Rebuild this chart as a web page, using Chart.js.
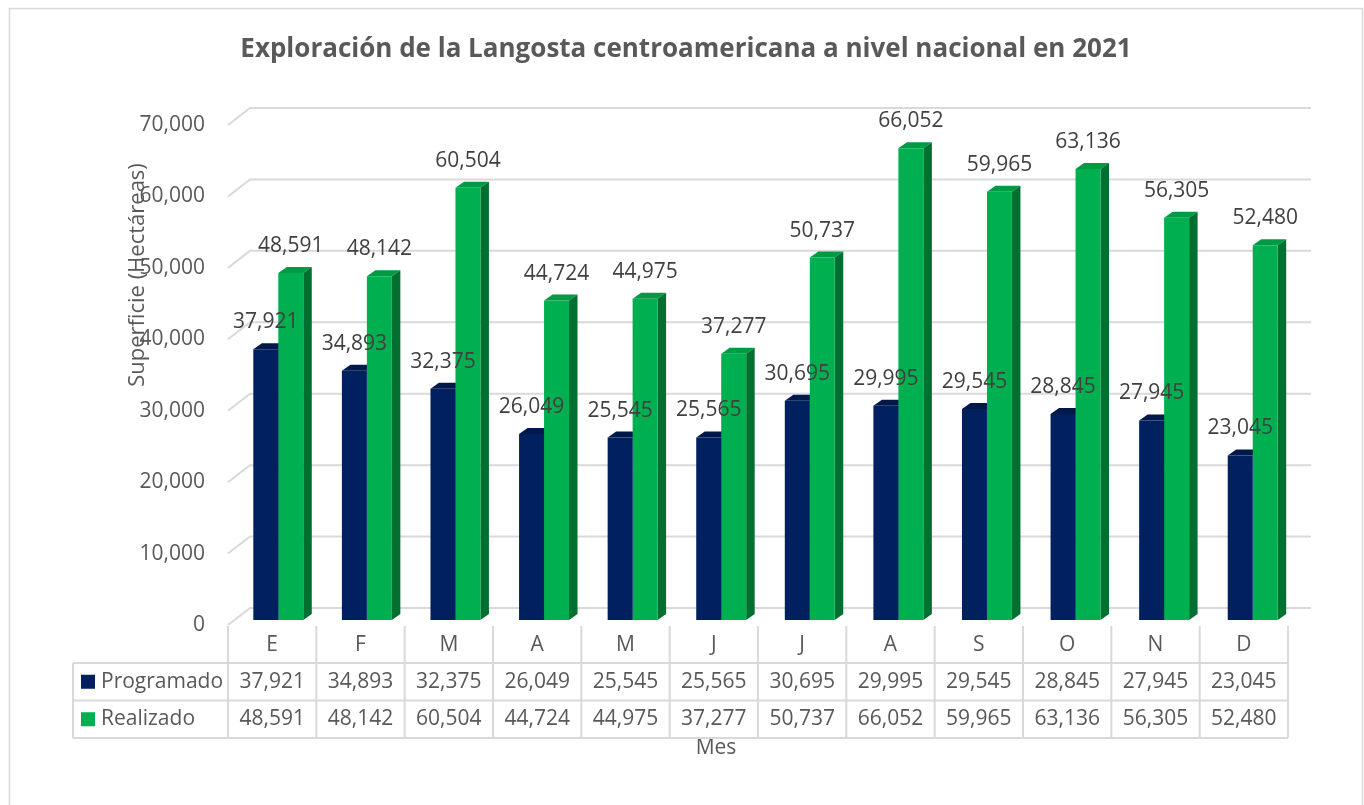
<!DOCTYPE html>
<html>
<head>
<meta charset="utf-8">
<script src="https://cdn.jsdelivr.net/npm/chart.js@4.4.0/dist/chart.umd.min.js"></script>
<style>
  html, body { margin: 0; padding: 0; background: #fff; }
  #contenedor { width: 1364px; height: 805px; }
</style>
</head>
<body>
<div id="contenedor"><canvas id="grafico"></canvas></div>
<script>
var meses = ["E", "F", "M", "A", "M", "J", "J", "A", "S", "O", "N", "D"];
var programado = [37921, 34893, 32375, 26049, 25545, 25565, 30695, 29995, 29545, 28845, 27945, 23045];
var realizado = [48591, 48142, 60504, 44724, 44975, 37277, 50737, 66052, 59965, 63136, 56305, 52480];
var series = ["Programado", "Realizado"];
var titulo = "Exploración de la Langosta centroamericana a nivel nacional en 2021";
var tituloY = "Superficie (Hectáreas)";
var tituloX = "Mes";

var fuente = "'Open Sans', 'Noto Sans', sans-serif";
var colores = ["#002060", "#00B050"];
var coloresTapa = ["#00184a", "#009a44"];
var coloresLado = ["#001238", "#006f30"];
var gris = "#d9d9d9";

// profundidad 3D
var profX = 8.5, profY = 6;
var fondoX = 22, fondoY = 17;

function formato(n) {
  return n.toLocaleString("en-US");
}

var dibujo3D = {
  id: "dibujo3D",
  beforeDraw: function (chart) {
    var ctx = chart.ctx;
    var area = chart.chartArea;
    var y = chart.scales.y;
    ctx.save();
    ctx.fillStyle = "#fff";
    ctx.fillRect(0, 0, chart.width, chart.height);
    ctx.strokeStyle = gris;
    ctx.lineWidth = 1.5;
    ctx.strokeRect(9.5, 8.5, 1353, 820);

    /* titulo */
    ctx.fillStyle = "#595959";
    ctx.font = "bold 26px " + fuente;
    ctx.textAlign = "center";
    ctx.textBaseline = "middle";
    ctx.fillText(titulo, chart.width / 2 + 4, 50);

    /* titulo eje Y */
    ctx.font = "22px " + fuente;
    ctx.save();
    ctx.translate(138, 275);
    ctx.rotate(-Math.PI / 2);
    ctx.fillText(tituloY, 0, 0);
    ctx.restore();

    /* titulo eje X */
    ctx.font = "21px " + fuente;
    ctx.fillText(tituloX, 716, 748);

    /* lineas de cuadricula con fondo */
    var izq = area.left - 6;
    ctx.strokeStyle = gris;
    ctx.lineWidth = 2;
    y.ticks.forEach(function (t) {
      var py = y.getPixelForValue(t.value);
      ctx.beginPath();
      ctx.moveTo(izq, py + 5);
      ctx.lineTo(izq + fondoX, py + 5 - fondoY);
      ctx.lineTo(area.right + 14, py + 5 - fondoY);
      ctx.stroke();
    });
    ctx.restore();
  },
  beforeDatasetsDraw: function (chart) {
    var ctx = chart.ctx;
    ctx.save();
    chart.data.datasets.forEach(function (ds, i) {
      chart.getDatasetMeta(i).data.forEach(function (barra) {
        var p = barra.getProps(["x", "y", "base", "width"], true);
        var l = p.x - p.width / 2, r = p.x + p.width / 2;
        ctx.fillStyle = coloresTapa[i];
        ctx.beginPath();
        ctx.moveTo(l, p.y);
        ctx.lineTo(l + profX, p.y - profY);
        ctx.lineTo(r + profX, p.y - profY);
        ctx.lineTo(r, p.y);
        ctx.closePath();
        ctx.fill();
        ctx.fillStyle = coloresLado[i];
        ctx.beginPath();
        ctx.moveTo(r, p.y);
        ctx.lineTo(r + profX, p.y - profY);
        ctx.lineTo(r + profX, p.base - profY);
        ctx.lineTo(r, p.base);
        ctx.closePath();
        ctx.fill();
      });
    });
    ctx.restore();
  },
  afterDatasetsDraw: function (chart) {
    var ctx = chart.ctx;
    ctx.save();
    ctx.fillStyle = "#404040";
    ctx.font = "21px " + fuente;
    ctx.textAlign = "center";
    ctx.textBaseline = "middle";
    chart.data.datasets.forEach(function (ds, i) {
      chart.getDatasetMeta(i).data.forEach(function (barra, j) {
        ctx.fillText(formato(ds.data[j]), barra.x, barra.y - 27);
      });
    });
    ctx.restore();
  },
  afterDraw: function (chart) {
    /* tabla de datos */
    var ctx = chart.ctx;
    var area = chart.chartArea;
    var izq = area.left - 6, der = area.right - 9;
    var anchoCol = (der - izq) / meses.length;
    var yCat = area.bottom + 6, yF1 = area.bottom + 43, yF2 = area.bottom + 80.5, yF3 = area.bottom + 118;
    var izqTabla = 73;
    ctx.save();
    ctx.strokeStyle = gris;
    ctx.lineWidth = 2;
    ctx.beginPath();
    [yF1, yF2, yF3].forEach(function (yy) {
      ctx.moveTo(izqTabla, yy);
      ctx.lineTo(der, yy);
    });
    ctx.moveTo(izqTabla, yF1);
    ctx.lineTo(izqTabla, yF3);
    for (var c = 0; c <= meses.length; c++) {
      var xx = izq + c * anchoCol;
      ctx.moveTo(xx, yCat);
      ctx.lineTo(xx, yF3);
    }
    ctx.stroke();

    ctx.font = "21px " + fuente;
    ctx.fillStyle = "#595959";
    ctx.textBaseline = "middle";
    ctx.textAlign = "center";
    var filas = [programado, realizado];
    var yFilas = [(yF1 + yF2) / 2, (yF2 + yF3) / 2];
    meses.forEach(function (m, c) {
      var cx = izq + (c + 0.5) * anchoCol;
      ctx.fillText(m, cx, (yCat + yF1) / 2 + 1);
      filas.forEach(function (f, k) {
        ctx.fillText(formato(f[c]), cx, yFilas[k]);
      });
    });
    ctx.textAlign = "left";
    series.forEach(function (s, k) {
      ctx.fillStyle = colores[k];
      ctx.fillRect(81, yFilas[k] - 7, 14, 14);
      ctx.fillStyle = "#595959";
      ctx.fillText(s, 101, yFilas[k]);
    });
    ctx.restore();
  }
};

var ctx = document.getElementById("grafico");
var grafico = new Chart(ctx, {
  type: "bar",
  data: {
    labels: meses,
    datasets: [{
      label: series[0],
      data: programado,
      backgroundColor: colores[0],
      borderWidth: 0,
      categoryPercentage: 0.564,
      barPercentage: 1
    }, {
      label: series[1],
      data: realizado,
      backgroundColor: colores[1],
      borderWidth: 0,
      categoryPercentage: 0.564,
      barPercentage: 1
    }]
  },
  options: {
    responsive: true,
    maintainAspectRatio: false,
    animation: false,
    devicePixelRatio: 1,
    layout: { padding: { top: 120, left: 134, right: 67, bottom: 185 } },
    plugins: {
      legend: { display: false },
      title: { display: false },
      tooltip: { enabled: false }
    },
    scales: {
      x: { display: false },
      y: {
        min: 0,
        max: 70000,
        afterFit: function (s) { s.width = 100; },
        border: { display: false },
        grid: { display: false, drawTicks: false },
        ticks: {
          stepSize: 10000,
          padding: 29,
          labelOffset: 5,
          color: "#595959",
          font: { family: fuente, size: 21 },
          callback: function (v) { return formato(v); }
        }
      }
    }
  },
  plugins: [dibujo3D]
});
</script>
</body>
</html>
